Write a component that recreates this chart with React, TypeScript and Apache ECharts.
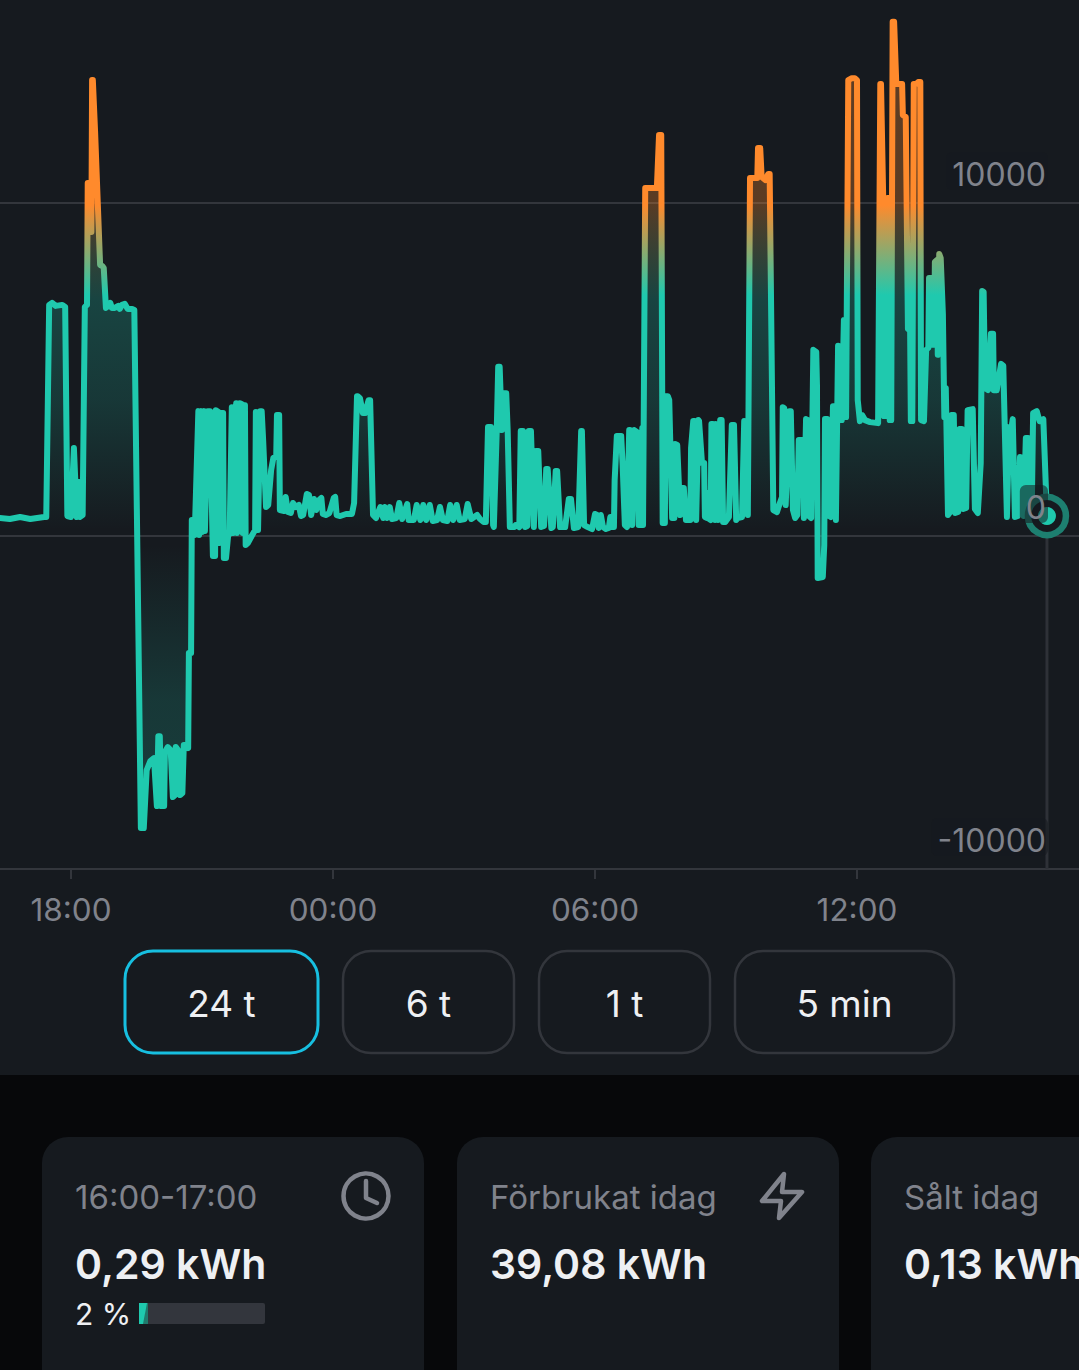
import React, { useEffect, useRef } from "react";
import * as echarts from "echarts";

// Readings: [minutes relative to 00:00, power in W]
const evening: [number, number][] = [
  [-458,540],[-444,510],[-430,570],[-416,510],[-397,570],[-394,570],[-390,6940],[-386,7000],[-381,6910],[-372,6940],[-368,6880],[-365,600],[-360,570],[-356,2640],[-353,1080],[-352,570],[-349,1620],[-348,570],[-344,630],
  [-341,6880],[-338,6940],[-337,10600],[-335,10600],[-334,9130],[-332,9130],[-331,13690],[-330,13690],[-327,12190],[-320,8140],[-317,8110],[-315,8050],[-312,6850],[-309,6910],[-306,7000],[-304,6850],[-300,6850],[-295,6910],[-293,6820],[-290,6940],[-286,6970],[-282,6820],[-276,6820],[-273,6790],
];
const exportDip: [number, number][] = [
  [-264,-8770],[-260,-8770],[-256,-7030],[-251,-6760],[-246,-6670],[-242,-8110],[-240,-6010],[-238,-6010],[-236,-8110],[-232,-8110],[-231,-6490],[-227,-6340],[-223,-6430],[-220,-7840],[-217,-7780],[-216,-6340],[-213,-6430],[-210,-7780],[-207,-7720],[-205,-6280],[-201,-6280],[-199,-6370],[-198,-3510],[-195,-3510],[-194,480],[-191,480],[-190,30],
];
const lateEvening: [number, number][] = [
  [-185,3750],[-184,30],[-181,3750],[-180,120],[-177,3750],[-176,150],[-172,3750],[-169,3750],[-165,-600],[-162,-600],[-161,3780],[-157,3720],[-156,-210],[-154,3690],[-151,3690],[-150,-660],[-147,-660],[-144,30],[-142,60],[-139,3870],[-137,90],[-133,3990],[-132,90],[-128,3990],[-125,3960],[-124,90],[-121,3930],[-120,-270],[-117,-210],[-111,30],[-107,180],[-106,3720],[-103,180],[-100,3750],[-98,3750],[-96,2880],[-92,870],[-89,930],[-85,1980],[-82,2340],[-78,2400],[-77,3630],[-74,3630],[-73,780],[-67,750],[-65,1170],[-62,720],[-58,690],[-55,990],[-51,870],[-47,930],[-44,600],[-41,630],[-36,1260],[-33,1230],[-30,630],[-26,1110],[-23,780],[-19,1080],[-16,1140],[-14,660],[-10,630],[-5,690],
];
const night: [number, number][] = [
  [1,1140],[3,1170],[5,630],[10,600],[18,660],[26,660],[29,990],[33,4200],[34,4200],[37,4140],[41,3690],[44,3690],[49,4080],[51,4080],[55,630],[59,540],[65,870],[69,540],[71,870],[74,540],[78,870],[81,510],[87,540],[91,990],[95,510],[102,960],[104,480],[111,480],[115,930],[120,480],[124,930],[128,480],[133,930],[137,450],[143,480],[147,870],[151,480],[157,450],[161,930],[165,480],[170,930],[174,480],[181,510],[185,960],[190,510],[198,630],[202,510],[207,420],[210,420],[213,3270],[217,3270],[220,330],[221,270],[225,3180],[227,5080],[229,5080],[232,3180],[235,4290],[238,4290],[240,3180],[243,270],[249,270],[251,330],[256,270],[258,3150],[261,3150],[264,270],[267,300],[269,3150],[272,3150],[276,270],[279,2550],[282,2550],[286,270],[290,300],[293,2010],[295,2010],[300,240],[302,270],[306,1950],[308,1950],[312,270],[319,270],[324,1110],[327,1110],[331,240],[337,270],[341,3150],[342,3150],[345,330],[350,270],[356,210],
];
const morning: [number, number][] = [
  [360,660],[363,630],[365,240],[368,630],[371,270],[375,210],[379,240],[381,570],[383,270],[386,270],[387,1680],[390,3000],[396,3000],[398,2130],[401,330],[404,270],[407,3180],[408,3180],[411,330],[414,3180],[418,3120],[420,330],[423,330],[425,3240],[426,330],[429,10450],[445,10450],[448,12040],[451,12040],[453,390],[456,390],[457,4200],[460,4200],[462,4080],[466,540],[469,540],[470,2760],[473,2730],[477,630],[480,1440],[482,1440],[485,480],[491,480],[492,2640],[495,3450],[497,3450],[499,480],[502,3480],[503,3450],[507,2190],[510,2190],[511,570],[514,540],[515,1290],[517,510],[519,480],[520,3360],[522,3360],[525,480],[526,3360],[528,3270],[529,480],[532,3480],[534,3480],[536,420],[539,420],[544,570],[548,3330],[551,3330],[554,480],[556,540],[562,570],[565,3450],[567,3420],[570,630],[573,10750],[583,10750],[584,11650],[587,11650],[589,10780],[594,10690],[598,10870],[600,10870],[605,780],[610,720],[614,990],[617,1170],[618,3870],[620,3840],[622,930],[627,3750],[629,3750],[632,780],[635,540],[638,630],[640,2880],[646,2880],[647,540],[650,3510],[653,3480],[654,600],[657,540],[660,5590],[664,5530],[665,4530],[666,-1260],[673,-1230],[675,-270],[676,3510],[679,3510],[680,630],[684,570],[687,3900],[690,3900],[691,480],[694,5710],[695,3480],[699,3480],[702,6490],[703,6490],[705,3570],
];
const midday: [number, number][] = [
  [708,13690],[713,13750],[717,13750],[720,13690],[721,4080],[724,3450],[727,3630],[731,3480],[738,3420],[749,3390],[752,13570],[753,13570],[756,10150],[757,3600],[758,10150],[759,3600],[760,10150],[761,3600],[762,10150],[764,10150],[765,3480],[767,3480],[769,15440],[771,15440],[774,13570],[782,13570],[783,12640],[787,12580],[790,6220],[793,6160],[794,3450],[796,3450],[798,13570],[801,13570],[804,13630],[807,13630],[808,3480],[812,3450],[815,5590],[818,5650],[819,7750],[822,7750],[823,5740],[826,5740],[827,8230],[830,8290],[831,5440],[833,8470],[835,8350],[838,6670],[840,3570],[842,4440],
];
const afternoon: [number, number][] = [
  [845,630],[848,720],[850,3630],[853,3630],[855,690],[859,720],[861,3210],[864,3210],[866,810],[870,840],[872,3780],[879,3810],[882,810],[886,690],[890,2190],[892,7360],[894,7330],[896,4440],[900,4380],[904,6070],[907,6070],[908,4380],[912,4380],[918,5170],[921,5110],[926,570],[929,3270],[932,3210],[934,3510],[937,570],[941,600],[944,2370],[947,2340],[949,600],[952,2940],[955,2940],[958,570],[960,600],[962,3690],[967,3750],[970,3510],[971,3450],[976,3510],[981,600],
];
const power = [...evening, ...exportDip, ...lateEvening, ...night, ...morning, ...midday, ...afternoon];
const latest = power[power.length - 1];

const yTicks = [-10000, 0, 10000];
const rangeButtons = [
  { label: "24 t", active: true },
  { label: "6 t", active: false },
  { label: "1 t", active: false },
  { label: "5 min", active: false },
];
const cards = [
  { title: "16:00-17:00", value: "0,29 kWh" },
  { title: "Förbrukat idag", value: "39,08 kWh" },
  { title: "Sålt idag", value: "0,13 kWh" },
];

const FONT = "Inter, 'Noto Sans', sans-serif";
const BG = "#161a1f";
const PAGE = "#07080a";
const TEAL = "#1fc9ae";
const ORANGE = "#ff8a2c";
const GREY = "#80838c";
const WHITE = "#eef0f3";
const RULE = "#33363c";

const hhmm = (m: number) => {
  if (m < -360 || m > 720) return "";
  const h = ((m / 60) % 24 + 24) % 24;
  return String(h).padStart(2, "0") + ":00";
};

function gfxText(text: string, x: number, y: number, size: number, fill: string, weight = 400, align = "left") {
  return {
    type: "text", x, y, z: 20,
    style: { text, fill, fontSize: size, fontFamily: FONT, fontWeight: weight, align, verticalAlign: "middle" },
  };
}

export default function App() {
  const ref = useRef<HTMLDivElement>(null);
  useEffect(() => {
    document.body.style.margin = "0";
    document.body.style.background = BG;
    const chart = echarts.init(ref.current!, null, { renderer: "svg" });

    const lineColor = new echarts.graphic.LinearGradient(0, 0, 0, 869, [
      { offset: 0, color: ORANGE },
      { offset: 205 / 869, color: ORANGE },
      { offset: 295 / 869, color: TEAL },
      { offset: 1, color: TEAL },
    ], true);
    const areaColor = new echarts.graphic.LinearGradient(0, 0, 0, 869, [
      { offset: 0, color: "rgba(255,138,44,0.32)" },
      { offset: 200 / 869, color: "rgba(255,138,44,0.30)" },
      { offset: 300 / 869, color: "rgba(31,201,174,0.24)" },
      { offset: 400 / 869, color: "rgba(31,201,174,0.17)" },
      { offset: 530 / 869, color: "rgba(31,201,174,0.0)" },
      { offset: 545 / 869, color: "rgba(31,201,174,0.0)" },
      { offset: 700 / 869, color: "rgba(31,201,174,0.17)" },
      { offset: 1, color: "rgba(31,201,174,0.22)" },
    ], true);

    const buttonBoxes = [
      { x: 125, w: 193 },
      { x: 343, w: 171 },
      { x: 539, w: 171 },
      { x: 735, w: 219 },
    ];
    const cardXs = [42, 457, 871];

    const graphic: any[] = [
      { type: "rect", z: -10, shape: { x: 0, y: 1075, width: 1079, height: 295 }, style: { fill: PAGE } },
    ];
    rangeButtons.forEach((b, i) => {
      const box = buttonBoxes[i];
      graphic.push({
        type: "rect", z: 10,
        shape: { x: box.x, y: 951, width: box.w, height: 102, r: 28 },
        style: { fill: "transparent", stroke: b.active ? "#17bfe0" : RULE, lineWidth: b.active ? 3 : 2.5 },
      });
      graphic.push(gfxText(b.label, box.x + box.w / 2, 1003, 37, WHITE, 400, "center"));
    });
    cards.forEach((c, i) => {
      const x = cardXs[i];
      graphic.push({
        type: "rect", z: -5,
        shape: { x, y: 1137, width: 382, height: 280, r: 26 },
        style: { fill: BG },
      });
      graphic.push(gfxText(c.title, x + 33, 1197, 33, GREY));
      graphic.push(gfxText(c.value, x + 33, 1264, 41, WHITE, 600));
    });
    graphic.push(gfxText("2 %", 75, 1314, 30, WHITE));
    graphic.push({ type: "rect", z: 10, shape: { x: 139, y: 1303, width: 126, height: 21, r: 2 }, style: { fill: "#33363d" } });
    graphic.push({ type: "rect", z: 11, shape: { x: 139, y: 1303, width: 9, height: 21 }, style: { fill: "#1f7a6c" } });
    graphic.push({ type: "polygon", z: 12, shape: { points: [[139, 1303], [147, 1303], [143, 1324], [139, 1324]] }, style: { fill: TEAL } });
    // clock icon
    graphic.push({ type: "circle", z: 12, shape: { cx: 366, cy: 1196, r: 22.5 }, style: { fill: "none", stroke: GREY, lineWidth: 4.5 } });
    graphic.push({ type: "polyline", z: 12, shape: { points: [[366, 1181], [366, 1198], [377, 1203]] }, style: { fill: "none", stroke: GREY, lineWidth: 4.5, lineCap: "round", lineJoin: "round" } });
    // bolt icon
    graphic.push({
      type: "polygon", z: 12,
      shape: { points: [[784, 1174], [762, 1201], [781, 1201], [779, 1218], [802, 1192], [782, 1192]] },
      style: { fill: "none", stroke: GREY, lineWidth: 4.5, lineJoin: "round" },
    });

    const yLabel = {
      show: true,
      inside: true,
      margin: 71,
      align: "right",
      verticalAlign: "bottom",
      padding: [0, 0, 22, 0],
      formatter: (v: number) => (yTicks.includes(v) ? `{a|${v}}` : ""),
      rich: {
        a: {
          color: GREY,
          fontFamily: FONT,
          fontSize: 32,
          lineHeight: 20,
          padding: [6, 2, 0, 6],
          backgroundColor: "rgba(22,26,31,0.55)",
          borderRadius: 6,
        },
      },
    };

    chart.setOption({
      animation: false,
      backgroundColor: BG,
      grid: { left: -191, width: 1310, top: -130, height: 999, containLabel: false, outerBoundsMode: "none" },
      xAxis: {
        type: "value",
        min: -720,
        max: 1080,
        interval: 360,
        axisLine: { show: true, onZero: false, lineStyle: { color: RULE, width: 2 } },
        axisTick: { show: true, length: 10, lineStyle: { color: RULE, width: 2 } },
        axisLabel: { color: GREY, fontFamily: FONT, fontSize: 31.5, margin: 24, formatter: hhmm },
        splitLine: { show: false },
      },
      yAxis: [
        {
          type: "value",
          min: -10000,
          max: 20000,
          interval: 10000,
          position: "right",
          axisLine: { show: false },
          axisTick: { show: false },
          axisLabel: { show: false },
          splitLine: { show: true, lineStyle: { color: RULE, width: 2 } },
        },
        {
          type: "value",
          min: -10000,
          max: 20000,
          interval: 10000,
          position: "right",
          z: 10,
          axisLine: { show: false },
          axisTick: { show: false },
          axisLabel: yLabel,
          splitLine: { show: false },
        },
      ],
      series: [
        {
          type: "line",
          z: 1,
          data: [[latest[0], latest[1]], [latest[0], -10000]],
          showSymbol: false,
          silent: true,
          lineStyle: { color: "#2e3137", width: 3 },
        },
        {
          type: "line",
          z: 2,
          data: power,
          showSymbol: false,
          smooth: false,
          lineStyle: { color: lineColor, width: 6, cap: "round", join: "round" },
          areaStyle: { color: areaColor, origin: 0, opacity: 1 },
        },
        {
          type: "scatter",
          z: 3,
          data: [latest],
          symbol: "circle",
          symbolSize: 38,
          silent: true,
          itemStyle: { color: BG, borderColor: "#1d7f70", borderWidth: 6.5, opacity: 1 },
        },
        {
          type: "scatter",
          z: 4,
          data: [latest],
          symbol: "circle",
          symbolSize: 18,
          silent: true,
          itemStyle: { color: TEAL, opacity: 1 },
        },
      ],
      graphic: { elements: graphic },
    });
    return () => chart.dispose();
  }, []);
  return <div ref={ref} style={{ width: 1079, height: 1370, overflow: "hidden" }} />;
}
